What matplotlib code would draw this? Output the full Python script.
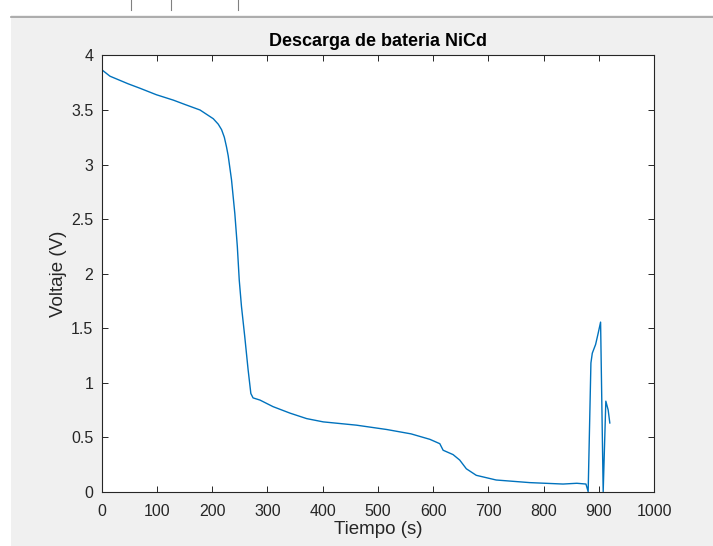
import matplotlib
matplotlib.use('Agg')
import matplotlib.pyplot as plt
from matplotlib.lines import Line2D
from matplotlib.patches import Rectangle

plt.rcParams['font.family'] = ['Liberation Sans', 'DejaVu Sans']

# lecturas aproximadas de la curva de descarga
tiempo = [0, 15, 48, 69, 99, 130, 151, 178, 190, 202, 211, 217, 222, 226, 229,
          235, 241, 245.5, 249, 253, 259, 265, 270, 274, 286.5, 310, 341, 371,
          401, 461, 516, 560, 594, 612, 618, 636, 648, 660, 678, 714, 775, 835,
          860, 876.5, 880.5, 885.5, 888, 894, 898.5, 903, 907.7, 912.5, 916.7,
          919.7]
voltaje = [3.87, 3.81, 3.74, 3.70, 3.64, 3.59, 3.55, 3.50, 3.46, 3.42, 3.37,
           3.32, 3.25, 3.16, 3.08, 2.86, 2.55, 2.25, 1.94, 1.70, 1.42, 1.12,
           0.90, 0.86, 0.84, 0.78, 0.72, 0.67, 0.64, 0.61, 0.57, 0.53, 0.48,
           0.44, 0.38, 0.34, 0.29, 0.21, 0.15, 0.107, 0.083, 0.07, 0.077, 0.07,
           0.0, 1.18, 1.27, 1.35, 1.45, 1.555, 0.0, 0.83, 0.75, 0.63]

x_ticks = list(range(0, 1001, 100))
y_ticks = [0, 0.5, 1, 1.5, 2, 2.5, 3, 3.5, 4]
y_labels = ['0', '0.5', '1', '1.5', '2', '2.5', '3', '3.5', '4']

fig = plt.figure(figsize=(7.13, 5.46), dpi=100, facecolor='#f0f0f0')

# restos de la ventana de matlab (franja blanca arriba e izquierda)
fig.patches.append(Rectangle((0, 1 - 15/546), 1, 15/546, transform=fig.transFigure,
                             facecolor='white', edgecolor='none', zorder=0))
fig.patches.append(Rectangle((0, 0), 11/713, 1, transform=fig.transFigure,
                             facecolor='white', edgecolor='none', zorder=0))
fig.lines.append(Line2D([11/713, 1], [1 - 16.5/546, 1 - 16.5/546], transform=fig.transFigure,
                        color='#a0a0a0', lw=1.2))
for px in [131, 171, 238]:
    fig.lines.append(Line2D([px/713, px/713], [1 - 10/546, 1], transform=fig.transFigure,
                            color='#808080', lw=0.8))

ax = fig.add_axes([0.1426, 0.0995, 0.7749, 0.7989])
ax.plot(tiempo, voltaje, color='#0072BD', lw=1.0)

ax.set_xlim(0, 1000)
ax.set_ylim(0, 4)
ax.set_xticks(x_ticks)
ax.set_yticks(y_ticks)
ax.set_yticklabels(y_labels)
ax.tick_params(direction='in', length=4, width=0.7, colors='#262626',
               labelsize=11.5, top=True, right=True)
ax.tick_params(axis='x', pad=9)
ax.tick_params(axis='y', pad=6)
for s in ax.spines.values():
    s.set_color('#262626')
    s.set_linewidth(0.8)

ax.set_title('Descarga de bateria NiCd', fontsize=13, fontweight='bold',
             color='black', pad=7)
ax.set_xlabel('Tiempo (s)', fontsize=13.5, color='#262626', labelpad=1)
ax.set_ylabel('Voltaje (V)', fontsize=13.5, color='#262626', labelpad=3)

fig.savefig('out.png', dpi=100, facecolor=fig.get_facecolor())
